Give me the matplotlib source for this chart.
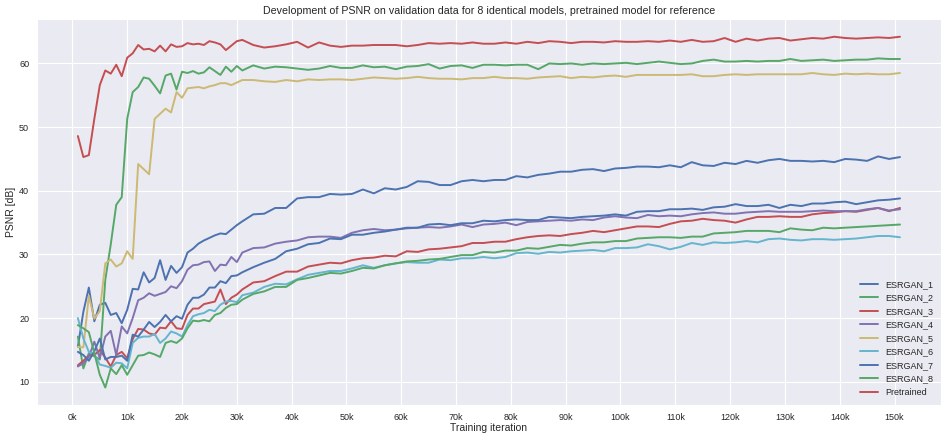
import matplotlib
matplotlib.use("Agg")
import matplotlib.pyplot as plt
import seaborn as sns

# iterations in thousands: every 1k up to 30k, then every 2k
iters_k = list(range(1, 31)) + list(range(31, 152, 2))

esrgan_1 = [15.5, 21.0, 24.8, 19.5, 22.1, 22.4, 20.5, 20.8, 19.2, 21.3,
            24.6, 24.5, 27.2, 25.6, 26.3, 29.1, 26.0, 28.2, 27.1, 28.0,
            30.3, 30.9, 31.7, 32.2, 32.6, 33.0, 33.3, 33.2, 33.9, 34.6,
            35.2, 36.3, 36.4, 37.3, 37.3, 38.8, 39.0, 39.0, 39.5, 39.4,
            39.5, 40.2, 39.6, 40.4, 40.2, 40.6, 41.5, 41.4, 40.9, 40.9,
            41.5, 41.7, 41.5, 41.7, 41.7, 42.3, 42.1, 42.5, 42.7, 43.0,
            43.0, 43.3, 43.4, 43.1, 43.5, 43.6, 43.8, 43.8, 43.7, 44.0,
            43.7, 44.5, 44.0, 43.9, 44.4, 44.2, 44.7, 44.4, 44.8, 45.0,
            44.7, 44.7, 44.6, 44.7, 44.5, 45.0, 44.9, 44.7, 45.4, 45.0,
            45.3]
esrgan_2 = [17.1, 12.1, 14.5, 14.0, 13.5, 26.0, 31.6, 37.8, 39.0, 51.3,
            55.5, 56.3, 57.8, 57.6, 56.5, 55.3, 58.1, 58.4, 55.9, 58.7,
            58.5, 58.8, 58.4, 58.6, 59.4, 58.8, 58.2, 59.5, 58.7, 59.6,
            58.9, 59.7, 59.2, 59.5, 59.4, 59.2, 59.0, 59.2, 59.6, 59.3,
            59.3, 59.7, 59.4, 59.5, 59.1, 59.5, 59.6, 59.9, 59.2, 59.6,
            59.7, 59.3, 59.8, 59.8, 59.7, 59.8, 59.8, 59.1, 60.0, 59.9,
            60.0, 59.8, 60.0, 59.9, 60.0, 60.1, 59.9, 60.1, 60.3, 60.1,
            59.9, 60.0, 60.4, 60.6, 60.3, 60.3, 60.4, 60.3, 60.4, 60.4,
            60.7, 60.4, 60.5, 60.6, 60.4, 60.5, 60.6, 60.6, 60.8, 60.7,
            60.7]
esrgan_3 = [12.6, 13.3, 14.1, 14.2, 15.0, 13.8, 12.4, 14.2, 14.7, 13.7,
            16.7, 18.3, 18.2, 17.6, 17.4, 18.5, 18.4, 19.5, 18.4, 18.3,
            20.5, 21.5, 21.5, 22.2, 22.4, 22.6, 24.5, 22.2, 23.2, 23.7,
            24.5, 25.6, 25.8, 26.6, 27.3, 27.3, 28.1, 28.4, 28.7, 28.6,
            29.1, 29.4, 29.5, 29.8, 29.7, 30.5, 30.4, 30.8, 30.9, 31.1,
            31.3, 31.8, 31.8, 32.0, 32.0, 32.4, 32.7, 32.9, 33.0, 32.9,
            33.2, 33.4, 33.7, 33.5, 33.8, 34.1, 34.4, 34.4, 34.3, 34.8,
            35.2, 35.3, 35.6, 35.4, 35.3, 35.0, 35.5, 35.9, 35.9, 36.0,
            35.9, 35.9, 36.3, 36.5, 36.6, 36.8, 36.7, 37.0, 37.3, 36.8,
            37.3]
esrgan_4 = [12.4, 12.9, 13.9, 16.3, 13.7, 17.1, 18.0, 14.2, 18.7, 17.6,
            20.0, 22.8, 23.2, 23.9, 23.5, 23.8, 24.1, 25.0, 24.7, 25.8,
            27.6, 28.3, 28.4, 28.8, 28.9, 27.4, 28.4, 28.3, 29.6, 28.8,
            30.3, 31.0, 31.1, 31.7, 32.0, 32.2, 32.7, 32.8, 32.8, 32.6,
            33.4, 33.8, 34.0, 33.8, 33.9, 34.1, 34.2, 34.3, 34.2, 34.4,
            34.7, 34.3, 34.7, 34.8, 35.0, 34.6, 35.1, 35.2, 35.3, 35.4,
            35.3, 35.5, 35.4, 35.8, 36.0, 35.8, 35.7, 36.2, 36.0, 36.1,
            36.0, 36.3, 36.5, 36.6, 36.4, 36.4, 36.6, 36.7, 36.8, 36.7,
            36.7, 36.7, 36.8, 36.9, 36.8, 36.8, 36.8, 37.1, 37.3, 36.9,
            37.1]
esrgan_5 = [15.5, 15.4, 23.5, 19.9, 21.1, 28.6, 29.2, 28.1, 28.6, 30.5,
            29.3, 44.2, 43.4, 42.6, 51.3, 52.1, 52.9, 52.3, 55.5, 54.6,
            56.1, 56.2, 56.3, 56.1, 56.4, 56.6, 56.9, 56.9, 56.6, 57.0,
            57.4, 57.4, 57.2, 57.1, 57.4, 57.2, 57.5, 57.4, 57.5, 57.5,
            57.4, 57.6, 57.8, 57.7, 57.6, 57.7, 57.9, 57.7, 57.6, 57.6,
            57.5, 57.7, 57.7, 57.9, 57.7, 57.7, 57.6, 57.8, 57.9, 58.0,
            57.7, 57.9, 57.8, 58.0, 58.1, 57.9, 58.2, 58.2, 58.2, 58.2,
            58.2, 58.3, 58.0, 58.0, 58.2, 58.3, 58.2, 58.3, 58.3, 58.3,
            58.3, 58.3, 58.5, 58.3, 58.2, 58.4, 58.3, 58.4, 58.3, 58.3,
            58.5]
esrgan_6 = [20.0, 16.8, 14.7, 14.3, 12.7, 12.5, 12.2, 13.0, 12.9, 12.1,
            16.1, 16.9, 17.1, 17.1, 17.5, 16.1, 16.8, 17.9, 17.6, 17.1,
            18.9, 20.3, 20.6, 20.8, 21.3, 21.1, 22.1, 22.6, 22.7, 22.5,
            23.6, 24.0, 24.9, 25.4, 25.3, 26.1, 26.8, 27.1, 27.4, 27.4,
            27.8, 28.3, 27.9, 28.3, 28.6, 28.8, 28.7, 28.7, 29.2, 29.1,
            29.4, 29.4, 29.6, 29.4, 29.6, 30.2, 30.3, 30.1, 30.4, 30.3,
            30.5, 30.6, 30.7, 30.5, 31.0, 31.0, 31.1, 31.6, 31.3, 30.8,
            31.2, 31.8, 31.5, 31.9, 31.8, 31.9, 32.1, 31.9, 32.4, 32.5,
            32.3, 32.2, 32.4, 32.4, 32.3, 32.4, 32.5, 32.7, 32.9, 32.9,
            32.7]
esrgan_7 = [14.7, 14.2, 13.3, 14.8, 16.8, 13.5, 13.9, 13.9, 14.1, 13.3,
            17.4, 17.1, 18.2, 19.4, 18.6, 19.4, 20.5, 19.5, 20.3, 19.9,
            22.1, 23.2, 23.2, 23.7, 24.8, 24.8, 25.8, 25.5, 26.6, 26.7,
            27.2, 28.0, 28.7, 29.3, 30.5, 30.9, 31.6, 31.8, 32.5, 32.4,
            33.1, 33.1, 33.4, 33.6, 33.9, 34.2, 34.2, 34.7, 34.8, 34.6,
            34.9, 34.9, 35.3, 35.2, 35.4, 35.5, 35.4, 35.4, 35.9, 35.8,
            35.7, 35.9, 36.0, 36.1, 36.3, 36.1, 36.7, 36.8, 36.8, 37.1,
            37.1, 37.2, 37.0, 37.4, 37.5, 37.9, 37.6, 37.6, 37.8, 37.3,
            37.8, 37.6, 38.0, 38.0, 38.2, 38.3, 37.9, 38.2, 38.5, 38.6,
            38.8]
esrgan_8 = [18.9, 18.4, 17.8, 14.5, 11.1, 9.1, 12.1, 11.2, 12.6, 11.1,
            12.6, 14.1, 14.2, 14.6, 14.3, 13.9, 16.1, 16.4, 16.1, 16.8,
            18.4, 19.6, 19.5, 19.7, 19.5, 20.5, 20.8, 21.6, 22.1, 22.2,
            22.9, 23.8, 24.2, 24.9, 24.9, 26.0, 26.3, 26.7, 27.1, 27.0,
            27.4, 27.9, 27.8, 28.3, 28.6, 28.9, 29.0, 29.2, 29.3, 29.6,
            29.9, 29.9, 30.4, 30.3, 30.6, 30.6, 31.0, 30.9, 31.2, 31.5,
            31.4, 31.7, 31.9, 31.9, 32.1, 32.1, 32.5, 32.6, 32.7, 32.7,
            32.6, 32.8, 32.8, 33.3, 33.4, 33.5, 33.7, 33.7, 33.7, 33.5,
            34.1, 33.9, 33.8, 34.2, 34.1, 34.2, 34.3, 34.4, 34.5, 34.6,
            34.7]
pretrained = [48.6, 45.3, 45.6, 51.3, 56.6, 58.9, 58.4, 59.8, 58.0, 60.9,
              61.6, 62.9, 62.2, 62.3, 61.9, 62.8, 61.9, 63.0, 62.6, 62.7,
              63.2, 63.0, 63.1, 62.9, 63.5, 63.3, 63.0, 62.1, 62.8, 63.5,
              63.7, 62.9, 62.5, 62.7, 63.0, 63.4, 62.5, 63.3, 62.8, 62.6,
              62.8, 62.8, 62.9, 62.9, 62.9, 62.7, 62.9, 63.2, 63.1, 63.2,
              63.1, 63.3, 63.1, 63.1, 63.3, 63.1, 63.4, 63.2, 63.5, 63.4,
              63.2, 63.4, 63.4, 63.3, 63.5, 63.4, 63.4, 63.5, 63.4, 63.6,
              63.4, 63.7, 63.4, 63.5, 64.0, 63.4, 63.9, 63.6, 63.9, 64.0,
              63.6, 63.8, 64.0, 63.9, 64.2, 64.0, 63.9, 64.0, 64.1, 64.0,
              64.2]

series = [esrgan_1, esrgan_2, esrgan_3, esrgan_4, esrgan_5,
          esrgan_6, esrgan_7, esrgan_8, pretrained]
names = ['ESRGAN_1', 'ESRGAN_2', 'ESRGAN_3', 'ESRGAN_4', 'ESRGAN_5',
         'ESRGAN_6', 'ESRGAN_7', 'ESRGAN_8', 'Pretrained']
x_ticks = list(range(0, 151, 10))
x_tick_labels = [f'{t}k' for t in x_ticks]

# old seaborn "deep" palette (6 colours, cycled)
palette = ['#4C72B0', '#55A868', '#C44E52', '#8172B2', '#CCB974', '#64B5CD']

sns.set_style('darkgrid')
plt.rcParams['font.family'] = ['Liberation Sans', 'DejaVu Sans']

fig, ax = plt.subplots(figsize=(9.43, 4.36), dpi=100)
fig.subplots_adjust(left=0.039, right=0.998, bottom=0.071, top=0.956)

for i, (vals, name) in enumerate(zip(series, names)):
    ax.plot(iters_k, vals, color=palette[i % len(palette)], linewidth=1.4, label=name)

ax.set_xticks(x_ticks)
ax.set_xticklabels(x_tick_labels)
ax.tick_params(labelsize=6.5, pad=2)
ax.set_xlabel('Training iteration', fontsize=7.5, labelpad=1)
ax.set_ylabel('PSNR [dB]', fontsize=7.5, labelpad=2)
ax.set_title('Development of PSNR on validation data for 8 identical models, pretrained model for reference',
             fontsize=7.7, pad=4)
ax.legend(loc='lower right', fontsize=6.5, frameon=False)

fig.savefig('out.png', dpi=100)
